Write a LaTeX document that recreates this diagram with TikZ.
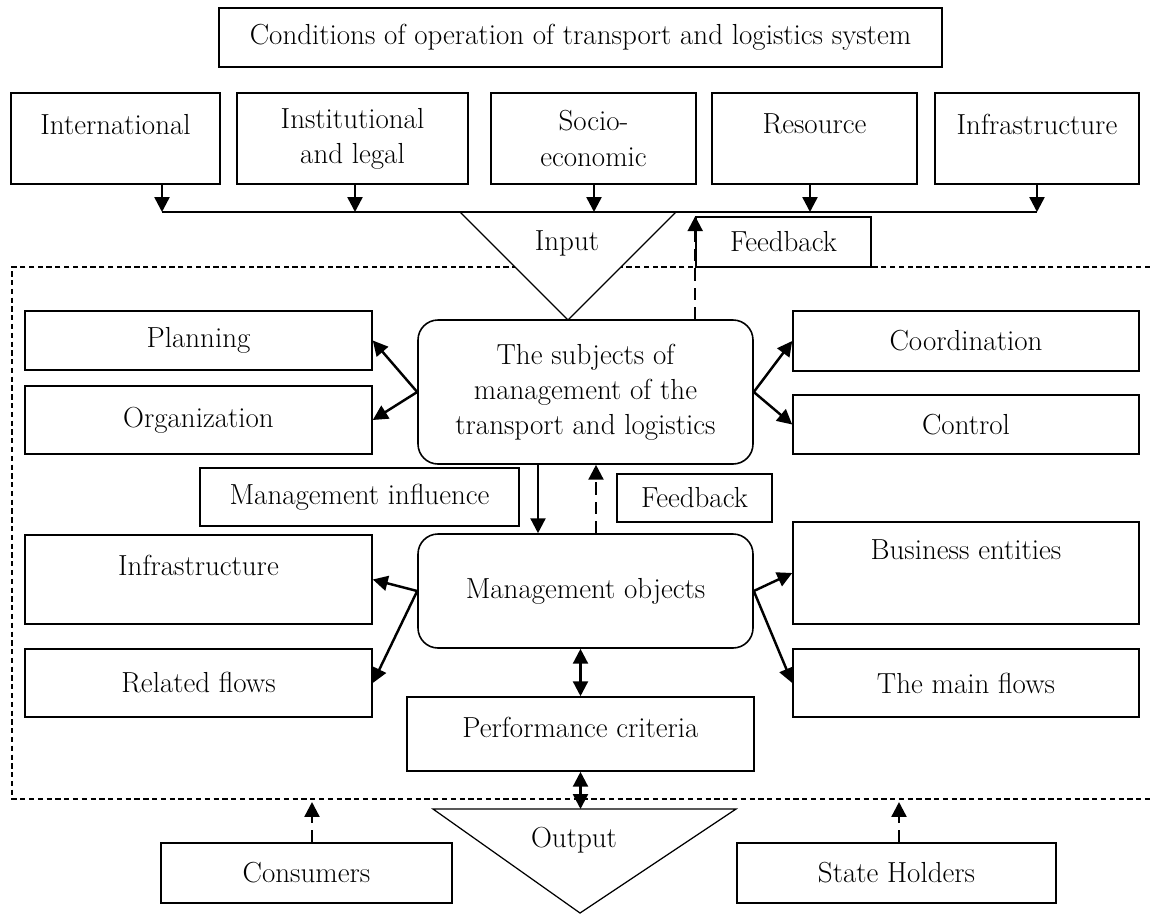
\documentclass[tikz,border=0pt]{standalone}
\usetikzlibrary{arrows.meta}
\tikzset{txt/.style={font=\fontsize{16.5}{20}\selectfont}}
\tikzset{box/.style={txt,draw,line width=0.9pt,align=center,inner sep=2pt}}
\tikzset{rbox/.style={box,rounded corners=0.4cm}}
\tikzset{wh/.style 2 args={minimum width=#1cm,minimum height=#2cm}}
\tikzset{lift/.style={text depth=#1cm}}
\tikzset{arr/.style={->,line width=1.4pt}}
\tikzset{fback/.style={arr,dash pattern=on 7pt off 4pt}}

\begin{document}
\begin{tikzpicture}[
		> = {Triangle[length=8.5pt, width=8.5pt]}, % arrow head style
		line join = miter
		]
		\useasboundingbox (0,0) rectangle (23,-18.26);
		
		% system frame
		\coordinate (d1) at (23,-5.34);
		\coordinate (d2) at (0.24,-5.34);
		\coordinate (d3) at (0.24,-15.98);
		\coordinate (d4) at (23,-15.98);
		\draw[line width=0.6pt, dash pattern=on 3pt off 2pt] (d1) -- (d2) -- (d3) -- (d4);
		
		% conditions
		\node[box, wh={14.46}{1.18}] (cond) at (11.61,-0.75) {Conditions of operation of transport and logistics system};
		\node[box, wh={4.18}{1.82}, lift=0.58] (intl) at (2.31,-2.77) {International};
		\node[box, wh={4.62}{1.82}] (inst) at (7.05,-2.77) {Institutional\\and legal};
		\node[box, wh={4.10}{1.82}] (socio) at (11.87,-2.77) {Socio-\\economic};
		\node[box, wh={4.10}{1.82}, lift=0.58] (res) at (16.29,-2.77) {Resource};
		\node[box, wh={4.08}{1.82}, lift=0.58] (infra) at (20.74,-2.77) {Infrastructure};
		
		\coordinate (j1) at (3.24,-4.24);
		\coordinate (j2) at (7.10,-4.24);
		\coordinate (j3) at (11.88,-4.24);
		\coordinate (j4) at (16.20,-4.24);
		\coordinate (j5) at (20.74,-4.24);
		
		% input
		\coordinate (i1) at (9.2,-4.24);
		\coordinate (i2) at (13.52,-4.24);
		\coordinate (i3) at (11.36,-6.40);
		\draw[line width=0.7pt, fill=white] (i1) -- (i3) -- (i2) -- cycle;
		\node[txt] (inp) at (11.34,-4.86) {Input};
		
		\draw[line width=0.9pt] (j1) -- (j5);
		\draw[arr] (intl.south -| j1) -- (j1);
		\draw[arr] (inst.south -| j2) -- (j2);
		\draw[arr] (socio.south -| j3) -- (j3);
		\draw[arr] (res.south -| j4) -- (j4);
		\draw[arr] (infra.south -| j5) -- (j5);
		
		% management
		\node[rbox, wh={6.70}{2.88}] (subj) at (11.71,-7.84) {The subjects of\\management of the\\transport and logistics};
		\node[box, wh={3.5}{1.0}] (fbtop) at (15.67,-4.84) {Feedback};
		\node[box, wh={6.94}{1.18}] (plan) at (3.97,-6.81) {Planning};
		\node[box, wh={6.94}{1.36}] (org) at (3.97,-8.40) {Organization};
		\node[box, wh={6.92}{1.20}] (coord) at (19.32,-6.82) {Coordination};
		\node[box, wh={6.92}{1.18}] (ctrl) at (19.32,-8.49) {Control};
		
		\draw[fback] (subj.north -| fbtop.west) -- (fbtop.north west);
		\draw[arr] (subj.west) -- (plan.east);
		\draw[arr] (subj.west) -- (org.east);
		\draw[arr] (subj.east) -- (coord.west);
		\draw[arr] (subj.east) -- (ctrl.west);
		
		% objects
		\node[box, wh={6.38}{1.16}] (infl) at (7.19,-9.94) {Management influence};
		\node[box, wh={3.1}{0.96}] (fbmid) at (13.89,-9.96) {Feedback};
		\node[rbox, wh={6.70}{2.28}] (obj) at (11.71,-11.82) {Management objects};
		\node[box, wh={6.94}{1.78}, lift=0.58] (infra2) at (3.97,-11.59) {Infrastructure};
		\node[box, wh={6.94}{1.36}] (rel) at (3.97,-13.66) {Related flows};
		\node[box, wh={6.92}{2.04}, lift=0.92] (bus) at (19.32,-11.46) {Business entities};
		\node[box, wh={6.92}{1.36}] (mainf) at (19.32,-13.66) {The main flows};
		
		\coordinate (mi) at (10.76,-9.3);
		\coordinate (fm) at (11.92,-9.3);
		\draw[arr] (subj.south -| mi) -- (obj.north -| mi);
		\draw[fback] (obj.north -| fm) -- (subj.south -| fm);
		\draw[arr] (obj.west) -- (infra2.east);
		\draw[arr] (obj.west) -- (rel.east);
		\draw[arr] (obj.east) -- (bus.west);
		\draw[arr] (obj.east) -- (mainf.west);
		
		% output
		\node[box, wh={6.94}{1.48}, lift=0.28] (perf) at (11.61,-14.68) {Performance criteria};
		\coordinate (o1) at (8.66,-16.18);
		\coordinate (o2) at (14.72,-16.18);
		\coordinate (o3) at (11.6,-18.26);
		\draw[line width=0.7pt, fill=white] (o1) -- (o3) -- (o2) -- cycle;
		\node[txt] (outp) at (11.48,-16.8) {Output};
		\draw[arr, <->] (obj.south -| perf.north) -- (perf.north);
		\draw[arr, <->] (perf.south) -- (perf.south |- o1);
		
		\node[box, wh={5.82}{1.2}] (cons) at (6.13,-17.46) {Consumers};
		\node[box, wh={6.38}{1.2}] (state) at (17.93,-17.46) {State Holders};
		\coordinate (c1) at (6.24,-16.04);
		\coordinate (s1) at (17.98,-16.04);
		\draw[fback] (cons.north -| c1) -- (c1);
		\draw[fback] (state.north -| s1) -- (s1);
\end{tikzpicture}
\end{document}
